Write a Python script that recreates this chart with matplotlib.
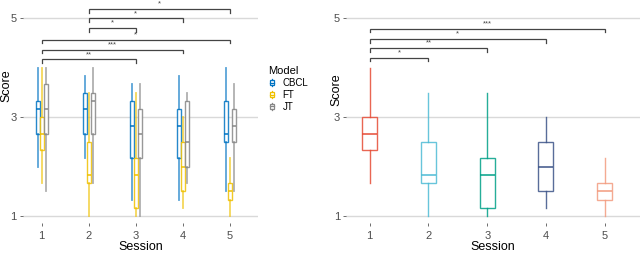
import matplotlib
matplotlib.use("Agg")
from matplotlib import pyplot as plt
from matplotlib.legend_handler import HandlerBase
from matplotlib.patches import Rectangle
from matplotlib.lines import Line2D

plt.rcParams['font.family'] = ['Liberation Sans', 'DejaVu Sans']

sessions = [1, 2, 3, 4, 5]
models = ['CBCL', 'FT', 'JT']

# left panel: per model, per session
cbcl_whishi = [4.0, 3.83, 3.67, 3.83, 4.0]
cbcl_q3 = [3.33, 3.5, 3.33, 3.17, 3.33]
cbcl_med = [3.17, 3.17, 2.83, 2.83, 2.67]
cbcl_q1 = [2.67, 2.67, 2.17, 2.17, 2.5]
cbcl_whislo = [2.0, 2.17, 1.33, 1.33, 1.5]

ft_whishi = [4.0, 3.5, 3.5, 3.0, 2.17]
ft_q3 = [3.0, 2.5, 2.17, 2.5, 1.67]
ft_med = [2.67, 1.83, 1.83, 2.0, 1.5]
ft_q1 = [2.33, 1.67, 1.17, 1.5, 1.33]
ft_whislo = [1.67, 1.0, 1.0, 1.17, 1.0]

jt_whishi = [4.0, 4.0, 3.67, 3.5, 3.67]
jt_q3 = [3.67, 3.5, 3.17, 3.33, 3.17]
jt_med = [3.17, 3.33, 2.67, 2.5, 2.83]
jt_q1 = [2.67, 2.67, 2.17, 2.0, 2.5]
jt_whislo = [1.5, 1.67, 1.0, 1.67, 1.5]

# right panel: one box per session
r_whishi = [4.0, 3.5, 3.5, 3.0, 2.17]
r_q3 = [3.0, 2.5, 2.17, 2.5, 1.67]
r_med = [2.67, 1.83, 1.83, 2.0, 1.5]
r_q1 = [2.33, 1.67, 1.17, 1.5, 1.33]
r_whislo = [1.67, 1.0, 1.0, 1.17, 1.0]

left_pairs = [(1, 3), (1, 4), (1, 5), (2, 3), (2, 4), (2, 5)]
left_labels = ['**', '***', '*', '*', '*', '*']
left_heights = [4.17, 4.37, 4.57, 4.8, 5.0, 5.19]

right_pairs = [(1, 2), (1, 3), (1, 4), (1, 5)]
right_labels = ['*', '**', '*', '***']
right_heights = [4.2, 4.4, 4.58, 4.79]

model_colors = ['#0073C2', '#EFC000', '#868686']
session_colors = ['#E64B35', '#4DBBD5', '#00A087', '#3C5488', '#F39B7F']

left_data = {
    'CBCL': (cbcl_whislo, cbcl_q1, cbcl_med, cbcl_q3, cbcl_whishi),
    'FT': (ft_whislo, ft_q1, ft_med, ft_q3, ft_whishi),
    'JT': (jt_whislo, jt_q1, jt_med, jt_q3, jt_whishi),
}


def make_stats(lo, q1, med, q3, hi):
    return [dict(whislo=a, q1=b, med=c, q3=d, whishi=e, fliers=[])
            for a, b, c, d, e in zip(lo, q1, med, q3, hi)]


def style_ax(ax):
    ax.set_xlim(0.6, 5.6)
    ax.set_ylim(1 - 7 / 49.4, 5 + 18.5 / 49.4)
    ax.set_yticks([1, 3, 5])
    ax.set_xticks(sessions)
    ax.set_xticklabels([str(s) for s in sessions])
    for s in ax.spines.values():
        s.set_visible(False)
    ax.grid(axis='y', color='#d9d9d9', lw=1.0)
    ax.set_axisbelow(True)
    ax.tick_params(length=2, width=0.6, color='#555555', labelcolor='#4d4d4d',
                   labelsize=8, pad=2.5)
    ax.tick_params(axis='x', pad=4)
    ax.set_xlabel('Session', fontsize=9, labelpad=0)


def brackets(ax, pairs, labels, heights):
    for (a, b), lab, h in zip(pairs, labels, heights):
        ax.plot([a, a, b, b], [h - 0.07, h, h, h - 0.07], color='#444444', lw=0.9,
                solid_joinstyle='miter')
        ax.text((a + b) / 2, h + 0.03, lab, ha='center', va='bottom', fontsize=5.5,
                color='#444444')


class BoxHandler(HandlerBase):
    def create_artists(self, legend, orig_handle, xdescent, ydescent, width, height, fontsize, trans):
        c = orig_handle.get_color()
        cx = width / 2 - xdescent
        bw = width * 0.6
        r = Rectangle((cx - bw / 2, height * 0.15 - ydescent), bw, height * 0.7,
                      facecolor='white', edgecolor=c, lw=0.9, transform=trans)
        m = Line2D([cx - bw / 2, cx + bw / 2], [height * 0.5 - ydescent] * 2, color=c, lw=0.9, transform=trans)
        w1 = Line2D([cx, cx], [-ydescent, height * 0.15 - ydescent], color=c, lw=0.9, transform=trans)
        w2 = Line2D([cx, cx], [height * 0.85 - ydescent, height - ydescent], color=c, lw=0.9, transform=trans)
        return [r, m, w1, w2]


fig = plt.figure(figsize=(6.4, 2.54), dpi=100)
ax1 = fig.add_axes([22.9 / 640, 31 / 254, 235 / 640, 223 / 254])
ax2 = fig.add_axes([346.2 / 640, 31 / 254, 293.8 / 640, 223 / 254])

offsets = [-0.085, 0.0, 0.085]
for name, col, off in zip(models, model_colors, offsets):
    st = make_stats(*left_data[name])
    ax1.bxp(st, positions=[s + off for s in sessions], widths=0.08, showfliers=False,
            showcaps=False, patch_artist=True,
            boxprops=dict(facecolor='white', edgecolor=col, lw=1.0, alpha=0.85),
            medianprops=dict(color=col, lw=1.1),
            whiskerprops=dict(color=col, lw=1.3, alpha=0.65))

r_stats = make_stats(r_whislo, r_q1, r_med, r_q3, r_whishi)
for st, s, col in zip(r_stats, sessions, session_colors):
    ax2.bxp([st], positions=[s], widths=0.255, showfliers=False, showcaps=False,
            patch_artist=True,
            boxprops=dict(facecolor='white', edgecolor=col, lw=1.0, alpha=0.85),
            medianprops=dict(color=col, lw=1.1),
            whiskerprops=dict(color=col, lw=1.0, alpha=0.85))

style_ax(ax1)
style_ax(ax2)

brackets(ax1, left_pairs, left_labels, left_heights)
brackets(ax2, right_pairs, right_labels, right_heights)

fig.text(6 / 640, 1 - 86 / 254, 'Score', rotation=90, ha='center', va='center', fontsize=9)
fig.text(336 / 640, 1 - 90 / 254, 'Score', rotation=90, ha='center', va='center', fontsize=9)

handles = [Line2D([], [], color=c) for c in model_colors]
leg = fig.legend(handles, models, handler_map={Line2D: BoxHandler()}, title='Model',
                 loc='upper left', bbox_to_anchor=(268 / 640, 1 - 66 / 254), frameon=False,
                 fontsize=7, title_fontsize=8, handlelength=0.8, handleheight=0.8,
                 handletextpad=0.7, labelspacing=0.2, borderaxespad=0, borderpad=0)
leg._legend_box.align = 'left'

fig.savefig('out.png', dpi=100)
